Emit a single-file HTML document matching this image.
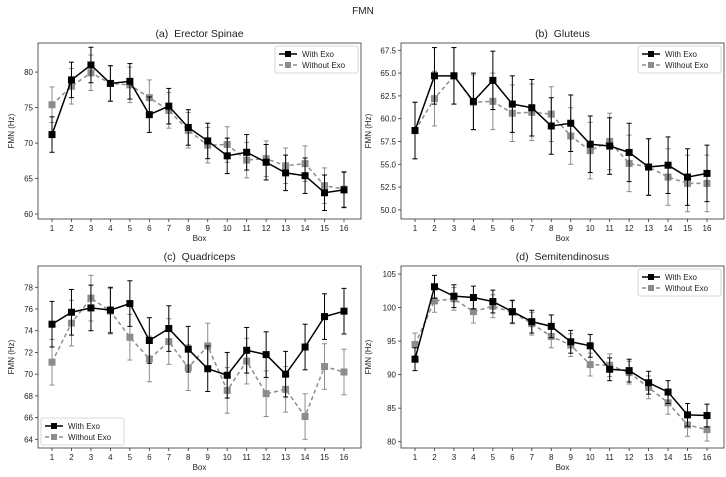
<!DOCTYPE html>
<html><head><meta charset="utf-8">
<style>
html,body{margin:0;padding:0;background:#fff;}
svg{display:block;font-family:"Liberation Sans","DejaVu Sans",sans-serif;}
</style></head>
<body>
<svg id="chart" width="726" height="477" viewBox="0 0 726 477" xmlns="http://www.w3.org/2000/svg">
<rect width="726" height="477" fill="#fff"/>
<text x="363" y="14" text-anchor="middle" font-size="10" fill="#222">FMN</text>
</svg>
<script>
const boxes = [1,2,3,4,5,6,7,8,9,10,11,12,13,14,15,16];
const titles = ["(a)\u00a0\u00a0Erector Spinae","(b)\u00a0\u00a0Gluteus","(c)\u00a0\u00a0Quadriceps","(d)\u00a0\u00a0Semitendinosus"];
const withA = [71.2,78.9,81.0,78.4,78.7,74.0,75.2,72.2,70.3,68.2,68.7,67.3,65.8,65.4,63.0,63.4];
const withoutA = [75.4,78.0,79.9,78.4,78.2,76.4,74.6,71.8,69.7,69.8,67.6,67.8,66.8,67.1,64.0,63.5];
const errWithA = [2.5,2.5,2.5,2.5,2.5,2.5,2.5,2.5,2.5,2.5,2.5,2.5,2.5,2.5,2.5,2.5];
const errWithoutA = [2.5,2.5,2.5,2.5,2.5,2.5,2.5,2.5,2.5,2.5,2.5,2.5,2.5,2.5,2.5,2.5];
const withB = [58.7,64.7,64.7,61.9,64.2,61.6,61.2,59.2,59.5,57.2,57.0,56.3,54.7,54.9,53.6,54.0];
const withoutB = [58.7,62.2,64.7,61.8,61.9,60.6,60.7,60.5,58.1,56.5,57.5,55.1,54.7,53.6,52.9,52.9];
const errWithB = [3.1,3.1,3.1,3.1,3.2,3.1,3.1,3.1,3.1,3.1,3.1,3.2,3.1,3.1,3.1,3.1];
const errWithoutB = [3.1,3.0,3.1,3.0,3.1,3.1,3.1,3.0,3.1,3.1,3.1,3.1,3.1,3.1,3.1,3.1];
const withC = [74.6,75.7,76.1,75.9,76.5,73.1,74.2,72.3,70.5,69.9,72.2,71.8,70.0,72.5,75.3,75.8];
const withoutC = [71.1,74.7,77.0,75.8,73.4,71.4,73.0,70.6,72.6,68.5,71.2,68.2,68.6,66.1,70.7,70.2];
const errWithC = [2.1,2.1,2.1,2.1,2.1,2.1,2.1,2.1,2.1,2.1,2.1,2.1,2.1,2.1,2.1,2.1];
const errWithoutC = [2.1,2.1,2.1,2.1,2.1,2.1,2.1,2.1,2.1,2.1,2.1,2.1,2.1,2.1,2.1,2.1];
const withD = [92.3,103.1,101.7,101.5,100.9,99.4,97.9,97.2,94.9,94.3,90.8,90.6,88.8,87.4,84.0,83.9];
const withoutD = [94.5,101.0,101.3,99.4,100.2,99.3,97.6,95.7,94.4,91.5,91.4,90.3,88.1,85.8,82.5,81.8];
const errWithD = [1.7,1.7,1.7,1.7,1.7,1.7,1.7,1.7,1.7,1.7,1.7,1.7,1.7,1.7,1.7,1.7];
const errWithoutD = [1.7,1.7,1.7,1.7,1.7,1.7,1.7,1.7,1.7,1.7,1.7,1.7,1.7,1.7,1.7,1.7];
const ticksA = [60,65,70,75,80];
const ticksB = [50.0,52.5,55.0,57.5,60.0,62.5,65.0,67.5];
const ticksC = [64,66,68,70,72,74,76,78];
const ticksD = [80,85,90,95,100,105];

const NS="http://www.w3.org/2000/svg";
const svg=document.getElementById('chart');
function mk(tag,attrs,parent,txt){const e=document.createElementNS(NS,tag);for(const k in attrs)e.setAttribute(k,attrs[k]);if(txt!==undefined)e.textContent=txt;(parent||svg).appendChild(e);return e;}

const panels=[
 {L:38,R:361,T:43,B:219,ymin:59.3,ymax:84.1,w:withA,wo:withoutA,ew:errWithA,ewo:errWithoutA,ticks:ticksA,dec:0,leg:'tr',ylx:14},
 {L:401,R:724,T:43,B:219,ymin:49.0,ymax:68.3,w:withB,wo:withoutB,ew:errWithB,ewo:errWithoutB,ticks:ticksB,dec:1,leg:'tr',ylx:371},
 {L:38,R:361,T:266,B:448,ymin:63.2,ymax:79.96,w:withC,wo:withoutC,ew:errWithC,ewo:errWithoutC,ticks:ticksC,dec:0,leg:'bl',ylx:14},
 {L:401,R:724,T:266,B:448,ymin:79.06,ymax:106.2,w:withD,wo:withoutD,ew:errWithD,ewo:errWithoutD,ticks:ticksD,dec:0,leg:'tr',ylx:371}
];
const pn=['erector-spinae','gluteus','quadriceps','semitendinosus'];

panels.forEach((p,i)=>{
 const g=mk('g',{});
 
 
 const x0=p.L+14, x1=p.R-17;
 const xs=b=>x0+(b-1)*(x1-x0)/15;
 const ys=v=>p.B-(v-p.ymin)/(p.ymax-p.ymin)*(p.B-p.T);
 const t=mk('text',{x:(p.L+p.R)/2,y:p.T-6,'text-anchor':'middle','font-size':'10.5',fill:'#222'},g,titles[i]);
 
 
 boxes.forEach(b=>{
  mk('line',{x1:xs(b),x2:xs(b),y1:p.B,y2:p.B+3,stroke:'#333','stroke-width':0.8},g);
  const tl=mk('text',{x:xs(b),y:p.B+12,'text-anchor':'middle','font-size':'8',fill:'#222'},g,String(b));
  
  
 });
 p.ticks.forEach(v=>{
  mk('line',{x1:p.L-3,x2:p.L,y1:ys(v),y2:ys(v),stroke:'#333','stroke-width':0.8},g);
  const tl=mk('text',{x:p.L-5,y:ys(v)+3,'text-anchor':'end','font-size':'8',fill:'#222'},g,v.toFixed(p.dec));
  
  
 });
 const xl=mk('text',{x:(p.L+p.R)/2,y:p.B+22,'text-anchor':'middle','font-size':'8',fill:'#222'},g,'Box');
 
 
 const cy=(p.T+p.B)/2;
 const yl=mk('text',{x:p.ylx,y:cy,'text-anchor':'middle','font-size':'8',fill:'#222',transform:'rotate(-90 '+p.ylx+' '+cy+')'},g,'FMN (Hz)');
 
 
 const series=[{v:p.wo,e:p.ewo,c:'#8c8c8c',dash:'4,3',n:'without-exo'},{v:p.w,e:p.ew,c:'#000',dash:'',n:'with-exo'}];
 series.forEach(s=>{
  const sg=mk('g',{},g);
  
  
  s.v.forEach((v,k)=>{
   const x=xs(boxes[k]),ya=ys(v+s.e[k]),yb=ys(v-s.e[k]);
   mk('line',{x1:x,x2:x,y1:ya,y2:yb,stroke:s.c,'stroke-width':1},sg);
   mk('line',{x1:x-2.5,x2:x+2.5,y1:ya,y2:ya,stroke:s.c,'stroke-width':1},sg);
   mk('line',{x1:x-2.5,x2:x+2.5,y1:yb,y2:yb,stroke:s.c,'stroke-width':1},sg);
  });
  const pts=s.v.map((v,k)=>xs(boxes[k])+','+ys(v)).join(' ');
  const pl=mk('polyline',{points:pts,fill:'none',stroke:s.c,'stroke-width':1.5,'stroke-dasharray':s.dash},sg);
  
  
  s.v.forEach((v,k)=>{
   const m=mk('rect',{x:xs(boxes[k])-3.5,y:ys(v)-3.5,width:7,height:7,fill:s.c},sg);
   
   
  });
 });
 mk('rect',{x:p.L,y:p.T,width:p.R-p.L,height:p.B-p.T,fill:'none',stroke:'#333','stroke-width':0.8},g);
 const lw=83,lh=27;
 const lx=p.leg==='tr'?p.R-lw-3:p.L+3, ly=p.leg==='tr'?p.T+3:p.B-lh-3;
 const lg=mk('g',{},g);
 
 
 mk('rect',{x:lx,y:ly,width:lw,height:lh,fill:'#fff',stroke:'#ccc','stroke-width':0.8,rx:2},lg);
 [['With Exo','#000',''],['Without Exo','#8c8c8c','4,3']].forEach((e,j)=>{
  const yy=ly+8+j*11;
  const eg=mk('g',{},lg);
  
  
  mk('line',{x1:lx+4,x2:lx+22,y1:yy,y2:yy,stroke:e[1],'stroke-width':1.5,'stroke-dasharray':e[2]},eg);
  mk('rect',{x:lx+10,y:yy-3,width:6,height:6,fill:e[1]},eg);
  mk('text',{x:lx+27,y:yy+3,'font-size':'8',fill:'#222'},eg,e[0]);
 });
});
</script>
</body></html>
